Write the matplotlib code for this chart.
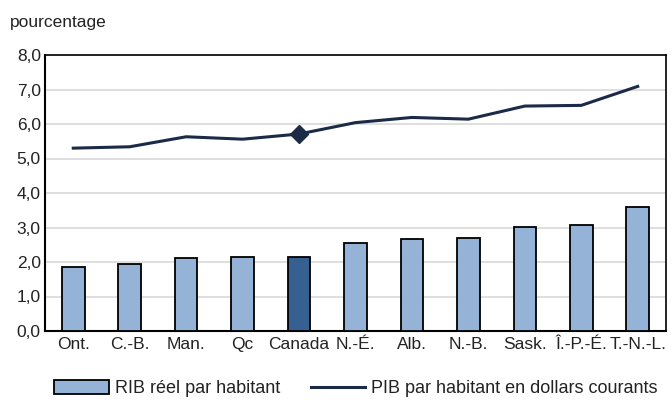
import matplotlib.pyplot as plt
from matplotlib.ticker import FuncFormatter

plt.rcParams['font.family'] = ['Liberation Sans', 'DejaVu Sans']

provinces = ['Ont.', 'C.-B.', 'Man.', 'Qc', 'Canada', 'N.-É.', 'Alb.', 'N.-B.', 'Sask.', 'Î.-P.-É.', 'T.-N.-L.']
rib_reel = [1.86, 1.93, 2.11, 2.14, 2.15, 2.56, 2.66, 2.69, 3.01, 3.07, 3.59]
pib_courant = [5.30, 5.34, 5.63, 5.56, 5.71, 6.04, 6.19, 6.14, 6.52, 6.54, 7.09]

light = '#95B3D7'
dark = '#376092'
navy = '#1B2A47'

fig = plt.figure(figsize=(6.72, 4.0), dpi=100)
ax = fig.add_axes([0.067, 0.1725, 0.924, 0.69])

x = list(range(len(provinces)))
colors = [dark if p == 'Canada' else light for p in provinces]
bars = ax.bar(x, rib_reel, width=0.4, color=colors, edgecolor='black', linewidth=1.3,
              label='RIB réel par habitant', zorder=3)
line, = ax.plot(x, pib_courant, color=navy, linewidth=2.2,
                label='PIB par habitant en dollars courants', zorder=4)
ci = provinces.index('Canada')
ax.plot([x[ci]], [pib_courant[ci]], marker='D', markersize=9, color=navy, zorder=5)

ax.set_xlim(-0.5, 10.5)
ax.set_ylim(0, 8)
ax.set_yticks([0, 1, 2, 3, 4, 5, 6, 7, 8])
ax.yaxis.set_major_formatter(FuncFormatter(lambda v, p: f'{v:.1f}'.replace('.', ',')))
ax.set_xticks(x)
ax.set_xticklabels(provinces)
ax.tick_params(axis='both', length=0, labelsize=12.5, colors='#222222')
ax.tick_params(axis='x', pad=4)
ax.tick_params(axis='y', pad=3)
ax.grid(axis='y', color='#D9D9D9', linewidth=1.2, zorder=0)
for s in ax.spines.values():
    s.set_color('black')
    s.set_linewidth(1.2)
ax.spines['left'].set_linewidth(1.5)
ax.spines['bottom'].set_linewidth(1.5)

fig.text(0.015, 0.945, 'pourcentage', fontsize=12.5, color='#222222', va='center')

fig.legend([bars, line], ['RIB réel par habitant', 'PIB par habitant en dollars courants'],
           loc='center', bbox_to_anchor=(0.53, 0.028), ncol=2, frameon=False,
           fontsize=13, handlelength=3.0, handleheight=0.8, columnspacing=1.7,
           handletextpad=0.35, labelcolor='#222222')

fig.savefig('out.png', dpi=100)
